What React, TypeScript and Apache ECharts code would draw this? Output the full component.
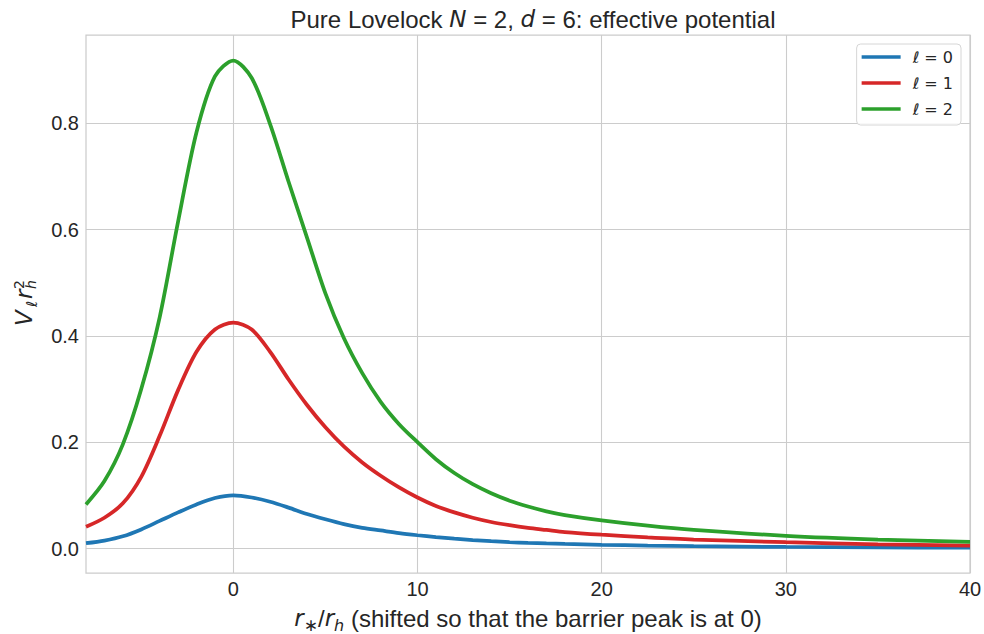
import React, { useEffect, useRef } from "react";
import * as echarts from "echarts";

// r_*/r_h sample positions
const xs = [-8, -7, -6, -5, -4, -3, -2, -1, 0, 1, 2, 3, 4, 5, 6, 7, 8, 9, 10, 11, 12, 13, 14, 15, 16, 17, 18, 20, 22.5, 25, 30, 35, 40];
const seriesNames = ["ℓ = 0", "ℓ = 1", "ℓ = 2"];
const vL0 = [0.010, 0.015, 0.023, 0.036, 0.052, 0.068, 0.083, 0.095, 0.1, 0.096, 0.088, 0.077, 0.065, 0.055, 0.046, 0.039, 0.034, 0.029, 0.025, 0.0215, 0.0185, 0.016, 0.0138, 0.012, 0.0106, 0.0095, 0.0086, 0.007, 0.0056, 0.0045, 0.003, 0.0021, 0.0015];
const vL1 = [0.041, 0.058, 0.085, 0.135, 0.212, 0.298, 0.37, 0.412, 0.425, 0.412, 0.37, 0.318, 0.27, 0.228, 0.192, 0.162, 0.137, 0.115, 0.096, 0.08, 0.068, 0.058, 0.05, 0.044, 0.039, 0.035, 0.031, 0.026, 0.021, 0.017, 0.012, 0.008, 0.0056];
const vL2 = [0.083, 0.127, 0.196, 0.3, 0.435, 0.615, 0.783, 0.888, 0.918, 0.885, 0.798, 0.69, 0.585, 0.48, 0.396, 0.33, 0.276, 0.234, 0.2, 0.168, 0.142, 0.121, 0.104, 0.09, 0.079, 0.07, 0.063, 0.053, 0.043, 0.035, 0.024, 0.017, 0.0125];
const xTicks = [0, 10, 20, 30, 40];
const yTicks = [0, 0.2, 0.4, 0.6, 0.8];
const xRange = [-8, 40];
const yRange = [-0.046, 0.966];
const colors = ["#1f77b4", "#d62728", "#2ca02c"];

export default function App() {
  const ref = useRef<HTMLDivElement>(null);
  useEffect(() => {
    const chart = echarts.init(ref.current!, null, { renderer: "svg" });
    const sans = "'Liberation Sans', Arial, sans-serif";
    const math = "'DejaVu Sans', sans-serif";
    const txt = "#262626";
    const gridColor = "#cccccc";
    const lists = [vL0, vL1, vL2];
    const mt = (size: number, extra: any = {}) => ({ fontFamily: math, fontStyle: "italic", fontSize: size, fill: txt, textAlign: "left", align: "left", textVerticalAlign: "middle", verticalAlign: "middle", ...extra });
    chart.setOption({
      animation: false,
      backgroundColor: "#ffffff",
      textStyle: { fontFamily: sans, color: txt },
      title: {
        text: "Pure Lovelock {i|N} = 2, {i|d} = 6: effective potential",
        left: 528,
        top: 2,
        textAlign: "center",
        textStyle: {
          fontFamily: sans,
          fontSize: 24,
          fontWeight: "normal",
          color: txt,
          rich: {
            i: { fontFamily: math, fontStyle: "italic", fontSize: 23, color: txt },
          },
        },
      },
      legend: {
        orient: "vertical",
        right: 23,
        top: 44,
        icon: "rect",
        itemWidth: 39,
        itemHeight: 3.5,
        itemGap: 10,
        backgroundColor: "rgba(255,255,255,0.85)",
        borderColor: "#d6d6d6",
        borderWidth: 1,
        borderRadius: 4,
        padding: [5, 8, 8, 5],
        data: seriesNames,
        formatter: (n: string) => `{i|ℓ}{t| = ${n.split("= ")[1]}}`,
        textStyle: {
          color: txt,
          fontSize: 16,
          padding: [0, 0, 0, 7],
          rich: {
            i: { fontFamily: math, fontStyle: "italic", fontSize: 16, color: txt },
            t: { fontFamily: math, fontSize: 16, color: txt },
          },
        },
      },
      grid: {
        left: 86,
        right: 14,
        top: 35,
        bottom: 61,
        show: true,
        borderColor: gridColor,
        borderWidth: 1.25,
        backgroundColor: "#ffffff",
        containLabel: false,
        outerBoundsMode: "none",
      },
      xAxis: {
        type: "value",
        min: xRange[0],
        max: xRange[1],
        axisLine: { show: false },
        axisTick: { show: false, customValues: xTicks },
        axisLabel: { customValues: xTicks, color: txt, fontSize: 20, fontFamily: sans, margin: 6 },
        splitLine: { show: true, lineStyle: { color: gridColor, width: 1.1 } },
        name: "{ri|r}{sub|∗}{n|/}{ri|r}{subi|h}{n| (shifted so that the barrier peak is at 0)}",
        nameLocation: "middle",
        nameGap: 30,
        nameTextStyle: {
          color: txt,
          fontSize: 24,
          rich: {
            ri: { fontFamily: math, fontStyle: "italic", fontSize: 23, color: txt, lineHeight: 30 },
            sub: { fontFamily: math, fontSize: 17, color: txt, verticalAlign: "bottom", lineHeight: 18 },
            subi: { fontFamily: math, fontStyle: "italic", fontSize: 16, color: txt, verticalAlign: "bottom", lineHeight: 18 },
            n: { fontFamily: sans, fontSize: 24, color: txt, lineHeight: 30 },
          },
        },
      },
      yAxis: {
        type: "value",
        min: yRange[0],
        max: yRange[1],
        axisLine: { show: false },
        axisTick: { show: false, customValues: yTicks },
        axisLabel: {
          customValues: yTicks,
          formatter: (v: number) => v.toFixed(1),
          color: txt,
          fontSize: 20,
          fontFamily: sans,
          margin: 7,
        },
        splitLine: { show: true, lineStyle: { color: gridColor, width: 1.1 } },
      },
      graphic: [
        {
          type: "group",
          x: 24,
          y: 326,
          rotation: Math.PI / 2,
          silent: true,
          children: [
            { type: "text", x: 0, y: 0, style: { text: "V", ...mt(23) } },
            { type: "text", x: 19, y: 7.5, style: { text: "ℓ", ...mt(15) } },
            { type: "text", x: 27, y: 0, style: { text: "r", ...mt(23) } },
            { type: "text", x: 37, y: -5, style: { text: "2", ...mt(14, { fontStyle: "normal" }) } },
            { type: "text", x: 37, y: 6.5, style: { text: "h", ...mt(14) } },
          ],
        },
      ],
      series: lists.map((vals, i) => ({
        type: "line",
        name: seriesNames[i],
        data: xs.map((x, j) => [x, vals[j]]),
        showSymbol: false,
        symbol: "none",
        smooth: 0.3,
        clip: true,
        lineStyle: { width: 3.75, color: colors[i] },
        itemStyle: { color: colors[i] },
        z: 3,
      })),
    });
    return () => chart.dispose();
  }, []);
  return <div ref={ref} style={{ position: "fixed", left: 0, top: 0, width: 984, height: 634 }} />;
}
